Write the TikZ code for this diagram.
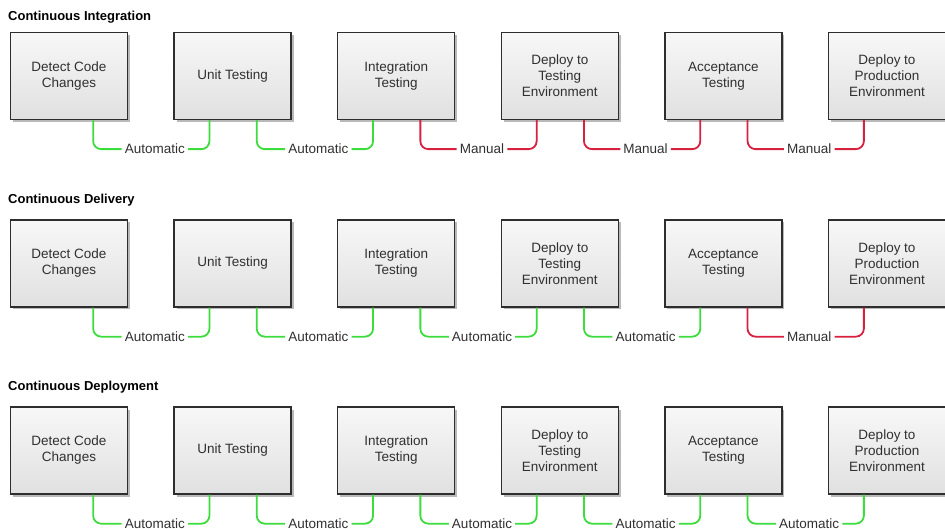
\documentclass[tikz,border=0pt]{standalone}
\usepackage{fontspec}
\setmainfont{Liberation Sans}
\usepackage{tikz}
\usetikzlibrary{arrows.meta, positioning, shadows, calc}
\definecolor{autogreen}{HTML}{3CDC3C}
\definecolor{manualred}{HTML}{D8203F}
\definecolor{boxline}{HTML}{2E2E2E}
\definecolor{txt}{HTML}{303030}

\begin{document}
\begin{tikzpicture}[
    x=1pt, y=1pt,
    node distance=45.3pt,
    box/.style={rectangle, draw=boxline, line width=1.3pt, top color=gray!6, bottom color=gray!24,
        minimum width=117pt, minimum height=87pt, inner sep=2pt, align=center, text=txt,
        font=\fontsize{13.5}{16}\selectfont,
        drop shadow={shadow xshift=2.5pt, shadow yshift=-2.5pt, fill=black!55, opacity=0.5}},
    title/.style={anchor=west, inner sep=0pt, text=black, font=\fontsize{13}{15}\selectfont\bfseries},
    lbl/.style={inner sep=3pt, text=txt, font=\fontsize{13.5}{15}\selectfont},
    autoline/.style={draw=autogreen, line width=1.8pt, rounded corners=8pt},
    manualline/.style={draw=manualred, line width=1.8pt, rounded corners=8pt}
]
\useasboundingbox (0,0) rectangle (945,-529);

% Continuous Integration
\node[title] (ci) at (8,-17) {Continuous Integration};
\node[box] (ci1) at (69,-76) {Detect Code\\Changes};
\node[box, right=of ci1] (ci2) {Unit Testing};
\node[box, right=of ci2] (ci3) {Integration\\Testing};
\node[box, right=of ci3] (ci4) {Deploy to\\Testing\\Environment};
\node[box, right=of ci4] (ci5) {Acceptance\\Testing};
\node[box, right=of ci5] (ci6) {Deploy to\\Production\\Environment};

\node[lbl] (cia) at ($(ci1.south east)!0.5!(ci2.south west)+(4,-29)$) {Automatic};
\node[lbl] (cib) at ($(ci2.south east)!0.5!(ci3.south west)+(4,-29)$) {Automatic};
\node[lbl] (cic) at ($(ci3.south east)!0.5!(ci4.south west)+(4,-29)$) {Manual};
\node[lbl] (cid) at ($(ci4.south east)!0.5!(ci5.south west)+(4,-29)$) {Manual};
\node[lbl] (cie) at ($(ci5.south east)!0.5!(ci6.south west)+(4,-29)$) {Manual};

\draw[autoline] ([xshift=-35pt]ci1.south east) |- (cia.west);
\draw[autoline] (cia.east) -| ([xshift=36pt]ci2.south west);
\draw[autoline] ([xshift=-35pt]ci2.south east) |- (cib.west);
\draw[autoline] (cib.east) -| ([xshift=36pt]ci3.south west);
\draw[manualline] ([xshift=-35pt]ci3.south east) |- (cic.west);
\draw[manualline] (cic.east) -| ([xshift=36pt]ci4.south west);
\draw[manualline] ([xshift=-35pt]ci4.south east) |- (cid.west);
\draw[manualline] (cid.east) -| ([xshift=36pt]ci5.south west);
\draw[manualline] ([xshift=-35pt]ci5.south east) |- (cie.west);
\draw[manualline] (cie.east) -| ([xshift=36pt]ci6.south west);

% Continuous Delivery
\node[title] (cl) at (8,-200) {Continuous Delivery};
\node[box] (cl1) at (69,-263.5) {Detect Code\\Changes};
\node[box, right=of cl1] (cl2) {Unit Testing};
\node[box, right=of cl2] (cl3) {Integration\\Testing};
\node[box, right=of cl3] (cl4) {Deploy to\\Testing\\Environment};
\node[box, right=of cl4] (cl5) {Acceptance\\Testing};
\node[box, right=of cl5] (cl6) {Deploy to\\Production\\Environment};

\node[lbl] (cla) at ($(cl1.south east)!0.5!(cl2.south west)+(4,-29)$) {Automatic};
\node[lbl] (clb) at ($(cl2.south east)!0.5!(cl3.south west)+(4,-29)$) {Automatic};
\node[lbl] (clc) at ($(cl3.south east)!0.5!(cl4.south west)+(4,-29)$) {Automatic};
\node[lbl] (cld) at ($(cl4.south east)!0.5!(cl5.south west)+(4,-29)$) {Automatic};
\node[lbl] (cle) at ($(cl5.south east)!0.5!(cl6.south west)+(4,-29)$) {Manual};

\draw[autoline] ([xshift=-35pt]cl1.south east) |- (cla.west);
\draw[autoline] (cla.east) -| ([xshift=36pt]cl2.south west);
\draw[autoline] ([xshift=-35pt]cl2.south east) |- (clb.west);
\draw[autoline] (clb.east) -| ([xshift=36pt]cl3.south west);
\draw[autoline] ([xshift=-35pt]cl3.south east) |- (clc.west);
\draw[autoline] (clc.east) -| ([xshift=36pt]cl4.south west);
\draw[autoline] ([xshift=-35pt]cl4.south east) |- (cld.west);
\draw[autoline] (cld.east) -| ([xshift=36pt]cl5.south west);
\draw[manualline] ([xshift=-35pt]cl5.south east) |- (cle.west);
\draw[manualline] (cle.east) -| ([xshift=36pt]cl6.south west);

% Continuous Deployment
\node[title] (cd) at (8,-387) {Continuous Deployment};
\node[box] (cd1) at (69,-450.5) {Detect Code\\Changes};
\node[box, right=of cd1] (cd2) {Unit Testing};
\node[box, right=of cd2] (cd3) {Integration\\Testing};
\node[box, right=of cd3] (cd4) {Deploy to\\Testing\\Environment};
\node[box, right=of cd4] (cd5) {Acceptance\\Testing};
\node[box, right=of cd5] (cd6) {Deploy to\\Production\\Environment};

\node[lbl] (cda) at ($(cd1.south east)!0.5!(cd2.south west)+(4,-29)$) {Automatic};
\node[lbl] (cdb) at ($(cd2.south east)!0.5!(cd3.south west)+(4,-29)$) {Automatic};
\node[lbl] (cdc) at ($(cd3.south east)!0.5!(cd4.south west)+(4,-29)$) {Automatic};
\node[lbl] (cdd) at ($(cd4.south east)!0.5!(cd5.south west)+(4,-29)$) {Automatic};
\node[lbl] (cde) at ($(cd5.south east)!0.5!(cd6.south west)+(4,-29)$) {Automatic};

\draw[autoline] ([xshift=-35pt]cd1.south east) |- (cda.west);
\draw[autoline] (cda.east) -| ([xshift=36pt]cd2.south west);
\draw[autoline] ([xshift=-35pt]cd2.south east) |- (cdb.west);
\draw[autoline] (cdb.east) -| ([xshift=36pt]cd3.south west);
\draw[autoline] ([xshift=-35pt]cd3.south east) |- (cdc.west);
\draw[autoline] (cdc.east) -| ([xshift=36pt]cd4.south west);
\draw[autoline] ([xshift=-35pt]cd4.south east) |- (cdd.west);
\draw[autoline] (cdd.east) -| ([xshift=36pt]cd5.south west);
\draw[autoline] ([xshift=-35pt]cd5.south east) |- (cde.west);
\draw[autoline] (cde.east) -| ([xshift=36pt]cd6.south west);
\end{tikzpicture}
\end{document}
